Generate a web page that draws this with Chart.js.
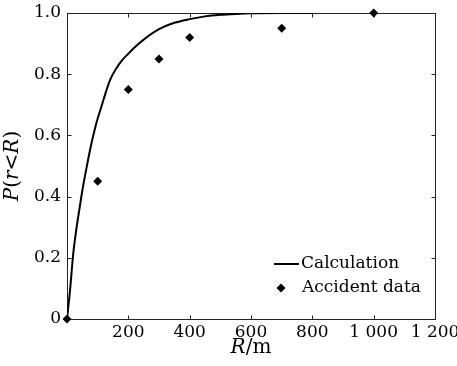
<!DOCTYPE html>
<html>
<head>
<meta charset="utf-8">
<script src="https://cdn.jsdelivr.net/npm/chart.js@4.4.1/dist/chart.umd.min.js"></script>
<style>
  html, body { margin: 0; padding: 0; background: #fff; }
  #wrap { width: 457px; height: 366px; }
</style>
</head>
<body>
<div id="wrap"><canvas id="cdfChart" width="457" height="366"></canvas></div>
<script>
// Calculated curve P(r<R)
const calcR = [0, 10, 20, 30, 40, 50, 60, 70, 80, 90, 100, 110, 120, 140, 160, 180, 200, 220, 250, 300, 350, 400, 450, 500, 550, 600, 700, 800];
const calcP = [0, 0.095, 0.21, 0.29, 0.356, 0.42, 0.475, 0.527, 0.575, 0.618, 0.655, 0.687, 0.72, 0.78, 0.818, 0.846, 0.867, 0.887, 0.913, 0.947, 0.968, 0.98, 0.989, 0.994, 0.997, 0.999, 1.0, 1.0];

// Accident data
const accR = [0, 100, 200, 300, 400, 700, 1000];
const accP = [0, 0.45, 0.75, 0.85, 0.92, 0.95, 1.0];

// Axis ticks
const xTicks = [0, 200, 400, 600, 800, 1000, 1200];
const yTicks = [0, 0.2, 0.4, 0.6, 0.8, 1.0];

const seriesNames = ["Calculation", "Accident data"];

const FONT = "'DejaVu Serif', serif";
const AXIS = "#222";

function fmtX(v) {
    if (v === 0) return "";
    const s = String(v);
    return v >= 1000 ? s.slice(0, s.length - 3) + " " + s.slice(-3) : s;
}

// draw "italic/regular" pieces in a row, centred on (cx, cy)
function drawPieces(ctx, pieces, cx, cy, size) {
    let total = 0;
    pieces.forEach(p => {
        ctx.font = (p[1] ? "italic " : "") + size + "px " + FONT;
        total += ctx.measureText(p[0]).width;
    });
    let x = cx - total / 2;
    pieces.forEach(p => {
        ctx.font = (p[1] ? "italic " : "") + size + "px " + FONT;
        ctx.fillText(p[0], x, cy);
        x += ctx.measureText(p[0]).width;
    });
}

// frame, inner ticks, titles and legend
const decorations = {
    id: "decorations",
    beforeDatasetsDraw(chart) {
        const ctx = chart.ctx;
        const a = chart.chartArea;
        const xs = chart.scales.x, ys = chart.scales.y;
        ctx.save();
        ctx.strokeStyle = AXIS;
        ctx.lineWidth = 1;
        const L = Math.round(a.left) + 0.5, R = Math.round(a.right) + 0.5;
        const T = Math.round(a.top) + 0.5, B = Math.round(a.bottom) + 0.5;
        ctx.strokeRect(L, T, R - L, B - T);
        ctx.beginPath();
        xTicks.forEach(v => {
            const px = Math.round(xs.getPixelForValue(v)) + 0.5;
            ctx.moveTo(px, B); ctx.lineTo(px, B - 4);
            ctx.moveTo(px, T); ctx.lineTo(px, T + 4);
        });
        yTicks.forEach(v => {
            const py = Math.round(ys.getPixelForValue(v)) + 0.5;
            ctx.moveTo(L, py); ctx.lineTo(L + 4, py);
            ctx.moveTo(R, py); ctx.lineTo(R - 4, py);
        });
        ctx.stroke();
        ctx.restore();
    },
    afterDraw(chart) {
        const ctx = chart.ctx;
        const a = chart.chartArea;
        ctx.save();
        ctx.fillStyle = "#000";
        ctx.textBaseline = "middle";

        // x title
        drawPieces(ctx, [["R", true], ["/m", false]], (a.left + a.right) / 2, a.bottom + 29, 20);

        // y title
        ctx.save();
        ctx.translate(13, (a.top + a.bottom) / 2);
        ctx.rotate(-Math.PI / 2);
        drawPieces(ctx, [["P", true], ["(", false], ["r", true], ["<", false], ["R", true], [")", false]], 0, 0, 20);
        ctx.restore();

        // legend
        const lx = a.right - 161, ly = a.bottom - 55;
        ctx.strokeStyle = "#000";
        ctx.lineWidth = 2;
        ctx.beginPath();
        ctx.moveTo(lx, ly); ctx.lineTo(lx + 25, ly);
        ctx.stroke();
        ctx.beginPath();
        const dx = lx + 7, dy = ly + 24, r = 4.5;
        ctx.moveTo(dx, dy - r); ctx.lineTo(dx + r, dy); ctx.lineTo(dx, dy + r); ctx.lineTo(dx - r, dy);
        ctx.closePath();
        ctx.fill();
        ctx.font = "17px " + FONT;
        ctx.textAlign = "left";
        ctx.fillText(seriesNames[0], lx + 27, ly);
        ctx.fillText(seriesNames[1], lx + 28, ly + 24);
        ctx.restore();
    }
};

new Chart(document.getElementById("cdfChart"), {
    type: "scatter",
    data: {
        datasets: [{
            label: seriesNames[0],
            data: calcR.map((r, i) => ({ x: r, y: calcP[i] })),
            showLine: true,
            borderColor: "#000",
            borderWidth: 2,
            pointRadius: 0,
            cubicInterpolationMode: "monotone",
            order: 2
        }, {
            label: seriesNames[1],
            data: accR.map((r, i) => ({ x: r, y: accP[i] })),
            showLine: false,
            pointStyle: "rectRot",
            pointRadius: 4.5,
            backgroundColor: "#000",
            borderColor: "#000",
            borderWidth: 0,
            clip: false,
            order: 1
        }]
    },
    options: {
        responsive: false,
        animation: false,
        layout: { padding: { left: 0, top: 13, right: 22, bottom: 0 } },
        plugins: {
            legend: { display: false },
            tooltip: { enabled: false }
        },
        scales: {
            x: {
                type: "linear",
                min: 0,
                max: 1200,
                afterBuildTicks: s => { s.ticks = xTicks.map(v => ({ value: v })); },
                ticks: {
                    callback: v => fmtX(v),
                    font: { family: FONT, size: 17 },
                    color: "#000",
                    padding: 3,
                    maxRotation: 0,
                    autoSkip: false
                },
                grid: { display: false, drawTicks: false },
                border: { display: false },
                afterFit: s => { s.height = 47; s.paddingLeft = 0; s.paddingRight = 0; }
            },
            y: {
                min: 0,
                max: 1,
                afterBuildTicks: s => { s.ticks = yTicks.map(v => ({ value: v })); },
                ticks: {
                    callback: v => v === 0 ? "0" : v.toFixed(1),
                    font: { family: FONT, size: 17 },
                    color: "#000",
                    padding: 6,
                    autoSkip: false
                },
                grid: { display: false, drawTicks: false },
                border: { display: false },
                afterFit: s => { s.width = 67; s.paddingTop = 0; s.paddingBottom = 0; }
            }
        }
    },
    plugins: [decorations]
});
</script>
</body>
</html>
